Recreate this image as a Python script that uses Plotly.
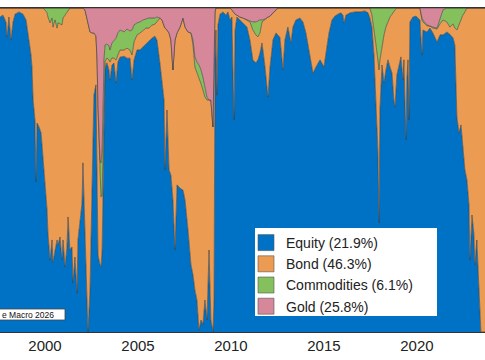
import plotly.graph_objects as go

# ---- data (decimal years, % allocation) ----
years = [1997.58, 1997.74, 1997.90, 1997.96, 1998.06, 1998.17, 1998.28, 1998.39, 1998.60, 1998.82,
         1998.98, 1999.14, 1999.25, 1999.30, 1999.36, 1999.46, 1999.52, 1999.57, 1999.68, 1999.79,
         1999.89, 2000.00, 2000.05, 2000.11, 2000.16, 2000.27, 2000.38, 2000.43, 2000.54, 2000.65,
         2000.70, 2000.81, 2000.91, 2000.97, 2001.08, 2001.18, 2001.24, 2001.34, 2001.45, 2001.51,
         2001.61, 2001.72, 2001.77, 2001.88, 2001.99, 2002.04, 2002.15, 2002.26, 2002.31, 2002.42,
         2002.53, 2002.63, 2002.74, 2002.80, 2002.85, 2002.96, 2003.01, 2003.07, 2003.12, 2003.17,
         2003.23, 2003.33, 2003.44, 2003.49, 2003.60, 2003.71, 2003.82, 2003.92, 2004.03, 2004.25,
         2004.41, 2004.57, 2004.68, 2004.79, 2004.95, 2005.11, 2005.27, 2005.43, 2005.59, 2005.75,
         2005.91, 2006.02, 2006.18, 2006.29, 2006.40, 2006.45, 2006.56, 2006.67, 2006.77, 2006.88,
         2006.99, 2007.10, 2007.26, 2007.42, 2007.53, 2007.69, 2007.85, 2007.96, 2008.06, 2008.17,
         2008.28, 2008.39, 2008.49, 2008.60, 2008.71, 2008.82, 2008.92, 2009.03, 2009.09, 2009.14,
         2009.19, 2009.25, 2009.30, 2009.41, 2009.57, 2009.73, 2009.84, 2009.95, 2010.05, 2010.16,
         2010.22, 2010.32, 2010.48, 2010.65, 2010.86, 2011.02, 2011.18, 2011.34, 2011.45, 2011.56,
         2011.67, 2011.83, 2011.99, 2012.10, 2012.26, 2012.42, 2012.53, 2012.63, 2012.80, 2012.90,
         2013.06, 2013.23, 2013.33, 2013.49, 2013.71, 2013.87, 2014.03, 2014.19, 2014.30, 2014.41,
         2014.57, 2014.79, 2015.00, 2015.16, 2015.27, 2015.43, 2015.59, 2015.75, 2015.91, 2016.02,
         2016.08, 2016.18, 2016.40, 2016.67, 2016.94, 2017.20, 2017.37, 2017.47, 2017.58, 2017.69,
         2017.80, 2017.90, 2017.96, 2018.01, 2018.12, 2018.23, 2018.33, 2018.44, 2018.55, 2018.66,
         2018.76, 2018.82, 2018.92, 2019.03, 2019.14, 2019.25, 2019.30, 2019.41, 2019.46, 2019.52,
         2019.57, 2019.62, 2019.78, 2019.95, 2020.16, 2020.27, 2020.32, 2020.54, 2020.70, 2020.86,
         2021.08, 2021.24, 2021.40, 2021.61, 2021.77, 2021.94, 2022.04, 2022.15, 2022.26, 2022.37,
         2022.47, 2022.58, 2022.69, 2022.80, 2022.85, 2022.96, 2023.06, 2023.12, 2023.22, 2023.33,
         2023.44, 2023.66]

equity = [97.2, 97.8, 95.7, 91.0, 97.2, 90.1, 95.7, 98.1, 98.8, 98.1,
          96.3, 90.1, 85.5, 81.8, 71.6, 65.4, 46.3, 64.5, 63.3, 61.4,
          54.0, 48.5, 44.8, 37.7, 30.6, 22.2, 28.4, 21.3, 25.3, 28.4,
          26.9, 29.3, 22.2, 28.4, 20.1, 26.2, 35.5, 25.3, 26.2, 15.1,
          23.1, 12.0, 28.4, 34.6, 39.8, 52.2, 30.6, 9.9, 0.0, 13.0,
          50.9, 73.1, 76.2, 40.7, 23.8, 20.7, 20.1, 25.3, 40.7, 65.4,
          81.5, 83.0, 80.9, 77.8, 82.4, 83.0, 76.9, 83.3, 84.9, 85.2,
          84.6, 84.6, 77.8, 84.0, 87.0, 87.0, 88.0, 89.2, 90.1, 90.7,
          91.4, 90.1, 83.0, 77.8, 71.6, 50.0, 68.5, 50.0, 48.5, 40.7,
          25.3, 45.4, 44.4, 43.8, 40.7, 31.5, 20.7, 17.6, 13.0, 9.9,
          0.6, 3.7, 2.2, 9.9, 3.7, 25.3, 3.7, 0.0, 9.9, 84.0,
          93.2, 73.1, 94.8, 98.1, 98.8, 97.8, 98.8, 96.3, 97.2, 65.4,
          93.2, 97.2, 96.3, 95.4, 94.1, 90.1, 84.0, 83.0, 84.0, 86.1,
          89.2, 81.8, 72.5, 81.8, 90.1, 92.3, 91.7, 91.0, 80.9, 90.1,
          94.1, 89.2, 94.1, 96.3, 96.9, 95.7, 92.3, 87.0, 84.0, 79.9,
          81.8, 84.0, 81.8, 88.6, 92.3, 96.3, 97.5, 98.1, 98.5, 97.8,
          95.4, 97.8, 98.5, 98.8, 98.8, 99.1, 98.5, 96.9, 94.1, 85.5,
          71.6, 56.2, 33.6, 68.5, 82.4, 76.9, 80.9, 84.0, 81.8, 79.9,
          71.6, 69.4, 79.3, 81.8, 84.9, 77.8, 84.0, 59.3, 77.8, 84.0,
          65.4, 95.7, 97.2, 97.5, 96.3, 85.5, 93.2, 92.6, 94.1, 92.3,
          89.5, 91.7, 91.7, 92.6, 92.0, 90.7, 88.6, 66.4, 61.4, 63.9,
          56.2, 50.0, 46.9, 39.2, 22.2, 36.1, 30.6, 20.7, 28.4, 13.0,
          0.0, 0.0]

bond = [2.8, 2.2, 4.3, 9.0, 2.8, 9.9, 4.3, 1.9, 1.2, 1.9,
        3.7, 9.9, 14.5, 18.2, 28.4, 34.6, 53.7, 35.5, 36.7, 38.6,
        46.0, 50.9, 54.0, 60.8, 66.7, 73.1, 68.5, 72.8, 71.3, 65.4,
        68.5, 65.7, 72.2, 68.5, 77.8, 72.5, 63.9, 74.7, 73.8, 84.9,
        76.9, 88.0, 71.6, 65.4, 60.2, 47.8, 68.8, 87.0, 95.4, 79.6,
        41.4, 19.1, 15.1, 43.2, 44.8, 27.8, 21.6, 17.0, 15.4, 12.3,
        1.9, 1.5, 3.1, 5.6, 2.2, 1.5, 7.1, 2.2, 2.2, 1.9,
        3.1, 2.5, 7.7, 5.6, 4.6, 5.2, 5.2, 4.6, 3.7, 4.0,
        3.7, 5.6, 13.9, 18.5, 23.1, 43.8, 24.7, 42.3, 41.7, 40.1,
        64.8, 46.9, 49.7, 53.1, 53.4, 61.1, 71.6, 71.0, 68.8, 70.4,
        78.1, 72.8, 72.5, 62.7, 67.9, 46.3, 67.9, 63.3, 67.9, 14.8,
        6.8, 26.9, 5.2, 1.9, 1.2, 2.2, 1.2, 3.7, 2.2, 33.0,
        4.9, 0.6, 0.9, 1.5, 2.2, 5.6, 9.3, 8.6, 7.1, 6.2,
        6.5, 14.8, 24.7, 15.7, 8.3, 7.1, 8.3, 9.0, 19.1, 9.9,
        5.9, 10.8, 5.9, 3.7, 3.1, 4.3, 7.7, 13.0, 16.0, 20.1,
        18.2, 16.0, 18.2, 11.4, 7.7, 3.7, 2.5, 1.9, 1.5, 2.2,
        4.6, 2.2, 1.5, 1.2, 1.2, 0.9, 1.5, 3.1, 3.7, 8.3,
        17.0, 27.8, 47.2, 15.4, 5.6, 14.8, 13.3, 11.7, 15.4, 18.2,
        27.5, 29.9, 20.7, 18.2, 15.1, 22.2, 16.0, 40.7, 22.2, 16.0,
        34.6, 4.3, 2.8, 2.5, 3.7, 10.8, 2.5, 1.9, 0.6, 1.5,
        4.0, 3.4, 4.6, 3.1, 2.2, 4.3, 5.2, 26.9, 33.3, 32.4,
        41.7, 48.8, 53.1, 60.8, 77.8, 63.9, 69.4, 79.3, 71.6, 87.0,
        100.0, 100.0]

commodities = [0, 0, 0, 0, 0, 0, 0, 0, 0, 0,
               0, 0, 0, 0, 0, 0, 0, 0, 0, 0,
               0, 0.6, 1.2, 1.5, 2.8, 4.6, 3.1, 5.9, 3.7, 6.2,
               4.6, 4.9, 5.2, 3.1, 2.2, 1.2, 0.6, 0, 0, 0,
               0, 0, 0, 0, 0, 0, 0, 0, 0, 0,
               0, 0, 0, 0, 1.5, 4.6, 10.5, 13.9, 12.3, 6.2,
               5.2, 4.3, 4.3, 3.7, 4.6, 5.6, 6.8, 6.8, 6.2, 5.6,
               5.9, 5.9, 7.7, 5.2, 3.7, 3.4, 3.1, 2.8, 3.1, 2.2,
               1.9, 1.5, 0, 0, 0, 0, 0, 0, 0, 0,
               0, 0, 0, 0, 0, 0, 0, 1.5, 3.1, 3.1,
               3.7, 4.3, 4.0, 3.1, 0.9, 0, 0, 0, 0, 0,
               0, 0, 0, 0, 0, 0, 0, 0, 0, 0,
               0, 0, 0, 0, 0, 0.3, 2.5, 4.0, 4.9, 4.0,
               0.6, 0, 0, 0, 0, 0, 0, 0, 0, 0,
               0, 0, 0, 0, 0, 0, 0, 0, 0, 0,
               0, 0, 0, 0, 0, 0, 0, 0, 0, 0,
               0, 0, 0, 0, 0, 0, 0, 0, 2.2, 6.2,
               11.4, 16.0, 19.1, 16.0, 12.0, 8.3, 5.9, 4.3, 2.8, 1.9,
               0.9, 0.6, 0, 0, 0, 0, 0, 0, 0, 0,
               0, 0, 0, 0, 0, 0.6, 0.6, 0.3, 0, 0.3,
               0.3, 1.2, 3.1, 4.3, 5.9, 4.9, 6.2, 6.8, 5.2, 3.7,
               2.2, 1.2, 0, 0, 0, 0, 0, 0, 0, 0,
               0, 0]

gold = [0, 0, 0, 0, 0, 0, 0, 0, 0, 0,
        0, 0, 0, 0, 0, 0, 0, 0, 0, 0,
        0, 0, 0, 0, 0, 0, 0, 0, 0, 0,
        0, 0, 0, 0, 0, 0, 0, 0, 0, 0,
        0, 0, 0, 0, 0, 0, 0.6, 3.1, 4.6, 7.4,
        7.7, 7.7, 8.6, 16.0, 29.9, 46.9, 47.8, 43.8, 31.5, 16.0,
        11.4, 11.1, 11.7, 13.0, 10.8, 9.9, 9.3, 7.7, 6.8, 7.4,
        6.5, 7.1, 6.8, 5.2, 4.6, 4.3, 3.7, 3.4, 3.1, 3.1,
        3.1, 2.8, 3.1, 3.7, 5.2, 6.2, 6.8, 7.7, 9.9, 19.1,
        9.9, 7.7, 5.9, 3.1, 5.9, 7.4, 7.7, 9.9, 15.1, 16.7,
        17.6, 19.1, 21.3, 24.4, 27.5, 28.4, 28.4, 36.7, 22.2, 1.2,
        0, 0, 0, 0, 0, 0, 0, 0, 0.6, 1.5,
        1.9, 2.2, 2.8, 3.1, 3.7, 4.0, 4.3, 4.3, 4.0, 3.7,
        3.7, 3.4, 2.8, 2.5, 1.5, 0.6, 0, 0, 0, 0,
        0, 0, 0, 0, 0, 0, 0, 0, 0, 0,
        0, 0, 0, 0, 0, 0, 0, 0, 0, 0,
        0, 0, 0, 0, 0, 0, 0, 0, 0, 0,
        0, 0, 0, 0, 0, 0, 0, 0, 0, 0,
        0, 0, 0, 0, 0, 0, 0, 0, 0, 0,
        0, 0, 0, 0, 0, 3.1, 3.7, 5.2, 5.6, 5.9,
        6.2, 3.7, 0.6, 0, 0, 0, 0, 0, 0, 0,
        0, 0, 0, 0, 0, 0, 0, 0, 0, 0,
        0, 0]

legend_labels = ["Equity (21.9%)", "Bond (46.3%)", "Commodities (6.1%)", "Gold (25.8%)"]
tick_years = [2000, 2005, 2010, 2015, 2020]

colors = ["#0072C6", "#EB9B52", "#84C15C", "#D6879A"]
edge = "#3a3a3a"
font_family = "Arial, Liberation Sans, Helvetica, sans-serif"

fig = go.Figure()
series = [equity, bond, commodities, gold]
for i, (vals, col) in enumerate(zip(series, colors)):
    kw = dict(groupnorm="percent") if i == 0 else {}
    fig.add_trace(go.Scatter(
        x=years, y=vals, mode="lines", stackgroup="one",
        line=dict(color=edge, width=0.6, shape="linear"),
        fillcolor=col, showlegend=False, hoverinfo="skip", **kw))

for label, col in zip(legend_labels, colors):
    fig.add_trace(go.Scatter(
        x=[None], y=[None], mode="markers", name=label,
        marker=dict(symbol="square", size=16, color=col,
                    line=dict(color="#555555", width=0.6))))

fig.update_layout(
    width=485, height=360,
    margin=dict(l=0, r=0, t=8, b=28),
    paper_bgcolor="white", plot_bgcolor="white",
    font=dict(family=font_family, color="#222222"),
    xaxis=dict(range=[1997.58, 2023.66], tickmode="array", tickvals=tick_years,
               ticktext=[str(t) for t in tick_years], showline=True, linecolor="#333333",
               linewidth=1, mirror=True, ticks="", showgrid=False, zeroline=False,
               tickfont=dict(size=15, family=font_family, color="#222222")),
    yaxis=dict(range=[0, 100], showticklabels=False, showgrid=False, zeroline=False,
               ticks="", showline=False),
    legend=dict(x=246 / 485, y=(332 - 227) / 324, xanchor="left", yanchor="top",
                traceorder="normal",
                bgcolor="rgba(0,0,0,0)", borderwidth=0,
                font=dict(size=14, family=font_family, color="#222222")),
    shapes=[
        dict(type="rect", xref="paper", yref="paper", layer="above",
             x0=255 / 485, x1=437 / 485, y0=(332 - 316) / 324, y1=(332 - 228) / 324,
             fillcolor="white", line=dict(width=0)),
        dict(type="rect", xref="paper", yref="paper", layer="above",
             x0=-0.01, x1=65 / 485, y0=(332 - 320) / 324, y1=(332 - 309) / 324,
             fillcolor="white", line=dict(color="#444444", width=0.8)),
    ],
    annotations=[
        dict(text="e Macro 2026", xref="paper", yref="paper", x=0.0, y=(332 - 314.5) / 324,
             xanchor="left", yanchor="middle", showarrow=False,
             font=dict(size=8.5, family=font_family, color="#111111")),
    ],
)

fig.write_html("out.html", config={"displayModeBar": False},
               post_script="document.body.style.margin='0px';")
